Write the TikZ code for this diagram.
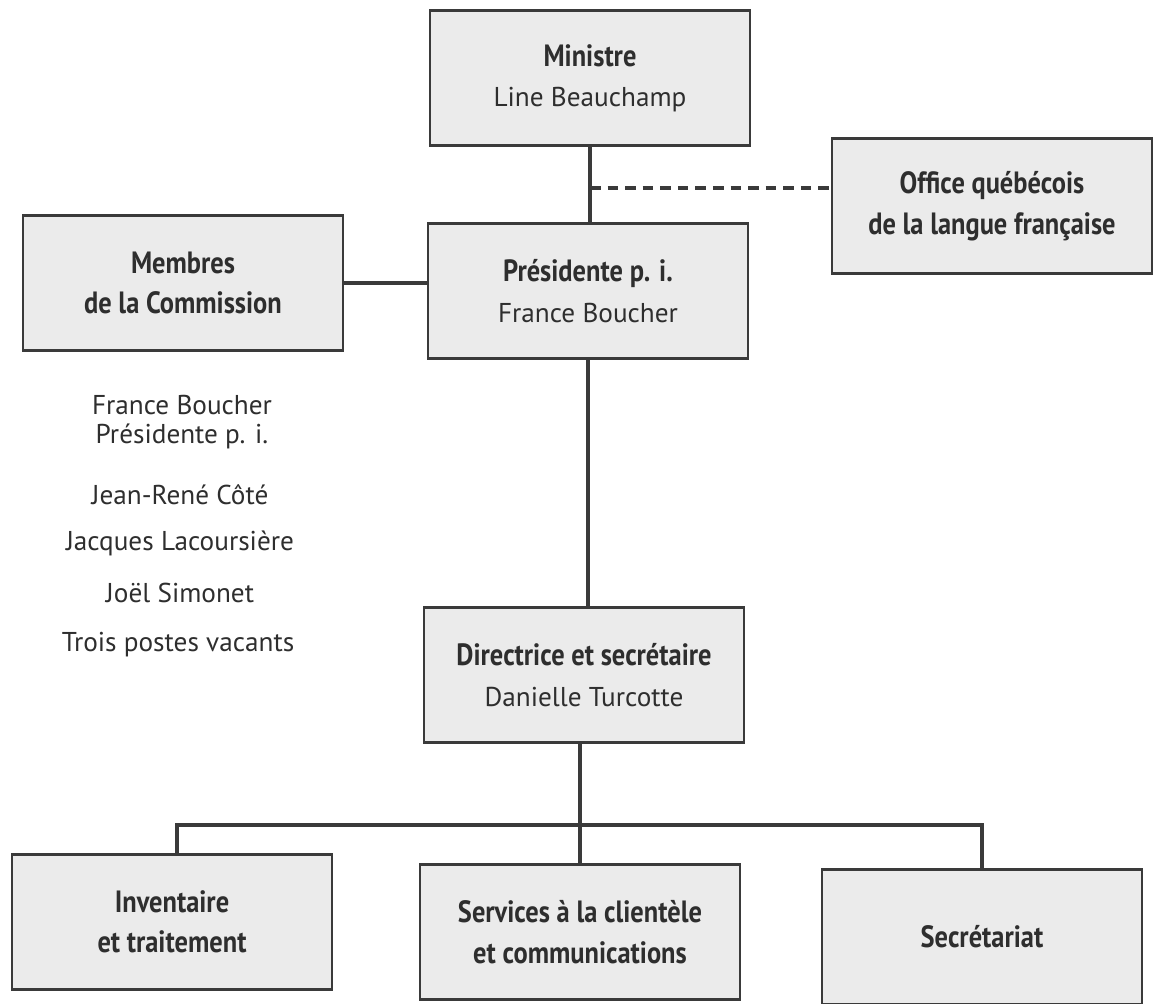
\documentclass[tikz,border=0pt]{standalone}
\usepackage{fontspec}
\setmainfont{PT Sans}
\newfontfamily\headfont[FakeStretch=0.86]{PT Sans}
\usetikzlibrary{positioning}
\usetikzlibrary{calc}
\definecolor{boxgray}{HTML}{EBEBEB}
\definecolor{linegray}{HTML}{3A3A3A}
\definecolor{textgray}{HTML}{2E2E2E}
\tikzstyle{unit}=[rectangle,draw=linegray,line width=1.3pt,fill=boxgray,minimum width=6.4cm,minimum height=2.7cm,inner sep=0pt,align=center,text=textgray,font=\fontsize{15.5}{23}\selectfont]
\tikzstyle{member}=[text=textgray,font=\fontsize{15.5}{18}\selectfont,inner sep=0pt]
\tikzstyle{link} = [draw=linegray,line width=2.2pt]
\tikzstyle{dashedlink} = [draw=linegray,line width=1.9pt,dash pattern=on 6pt off 4pt]
\newcommand{\hd}[1]{{\headfont\bfseries\fontsize{17.5}{23}\selectfont #1}}

\begin{document}
\begin{tikzpicture}[x=0.02cm,y=-0.02cm]
    \useasboundingbox (0,0) rectangle (1160,1004);
    % Top of the chart
    \node[unit] (ministre) at (590,78) {\hd{Ministre}\\Line Beauchamp};
    \node[unit] (office) at (992,206) {\hd{Office québécois}\\\hd{de la langue française}};
    \node[unit] (membres) at (183,283) {\hd{Membres}\\\hd{de la Commission}};
    \node[unit] (presidente) at (588,291) {\hd{Présidente p. i.}\\France Boucher};
    \node[unit] (directrice) at (584,675) {\hd{Directrice et secrétaire}\\Danielle Turcotte};

    % Then the three services
    \foreach \pos/\name/\label in {{(172,922)/inventaire/{\hd{Inventaire}\\\hd{et traitement}}},
        {(580,932)/services/{\hd{Services à la clientèle}\\\hd{et communications}}},
        {(982,937)/secretariat/{\hd{Secrétariat}}}}
        \node[unit] (\name) at \pos {\label};

    % Members of the commission
    \foreach \pos/\name/\label in {{(182,405)/m1/France Boucher}, {(182,436)/m2/Présidente p. i.},
        {(180,495)/m3/Jean-René Côté}, {(180,543)/m4/Jacques Lacoursière},
        {(180,593)/m5/Joël Simonet}, {(178,645)/m6/Trois postes vacants}}
        \node[member] (\name) at \pos {\label};

    % Connect the boxes
    \coordinate (tap) at (590,188);
    \coordinate (bus) at (580,825);
    \path[link] (ministre.south) -- (ministre.south |- presidente.north);
    \path[dashedlink] (tap) -- (tap -| office.west);
    \path[link] (membres.east) -- (membres.east -| presidente.west);
    \path[link] (presidente.south) -- (presidente.south |- directrice.north);
    \path[link] (directrice.south -| services.north) -- (services.north);
    \path[link] ([xshift=5*0.02cm]inventaire.north) |- (bus) -| (secretariat.north);
\end{tikzpicture}
\end{document}
